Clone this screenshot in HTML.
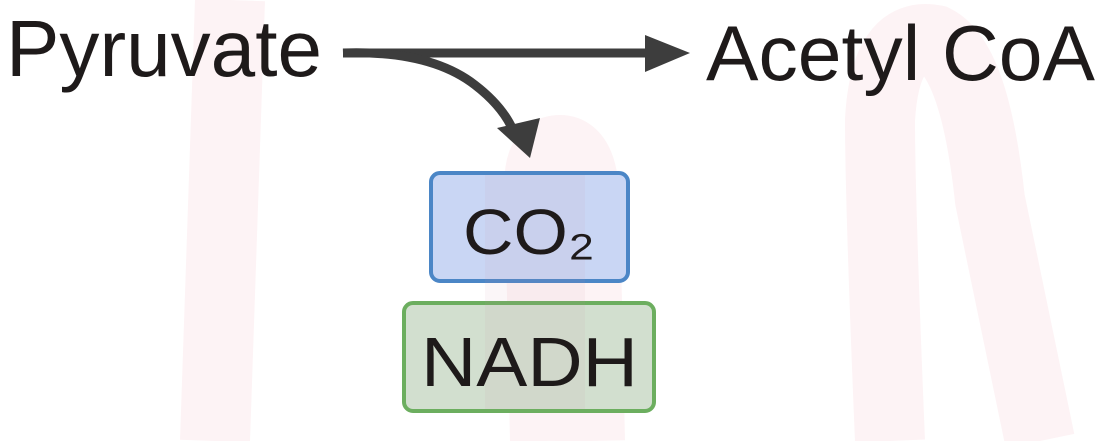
<!DOCTYPE html>
<html><head><style>
body{margin:0;width:1113px;height:441px;overflow:hidden;background:#fff;}
svg{position:absolute;left:0;top:0}
</style></head><body>
<svg width="1113" height="441" viewBox="0 0 1113 441">
<g fill="none" stroke="#fdf3f5" stroke-width="70">
<path d="M230 0 L215 441"/>
<path d="M545 441 L540 200 Q535 150 560 150 Q585 150 585 210 L590 441"/>
<path d="M890 441 Q880 200 880 120 Q885 30 935 40 Q975 60 990 200 L1040 441"/>
</g>
<g fill="#3d3d3d" stroke="#3d3d3d">
<line x1="343" y1="53" x2="655" y2="53" stroke-width="9"/>
<polygon points="645,35 690,53 645,72" stroke="none"/>
<path d="M343 53 Q430 50 475 85 Q505 108 515 135" fill="none" stroke-width="9"/>
<polygon points="497,128 540,118 530,158" stroke="none"/>
</g>
<rect x="431" y="173" width="197" height="108" rx="9" fill="#c9d6f4" stroke="#4b86c6" stroke-width="4"/>
<rect x="404" y="303" width="250" height="108" rx="9" fill="#d2dfcf" stroke="#6cae5f" stroke-width="4"/>
<rect x="485" y="175" width="100" height="234" fill="#c88aa8" opacity="0.08"/>
<g font-family="Liberation Sans, sans-serif" fill="#1e1a1a">
<text x="6" y="76" font-size="80" textLength="316" lengthAdjust="spacingAndGlyphs">Pyruvate</text>
<text x="706" y="80" font-size="78" textLength="389" lengthAdjust="spacingAndGlyphs">Acetyl CoA</text>
<text x="463" y="254" font-size="64" textLength="132" lengthAdjust="spacingAndGlyphs">CO₂</text>
<text x="421" y="386" font-size="70" textLength="217" lengthAdjust="spacingAndGlyphs">NADH</text>
</g>
</svg>
</body></html>
